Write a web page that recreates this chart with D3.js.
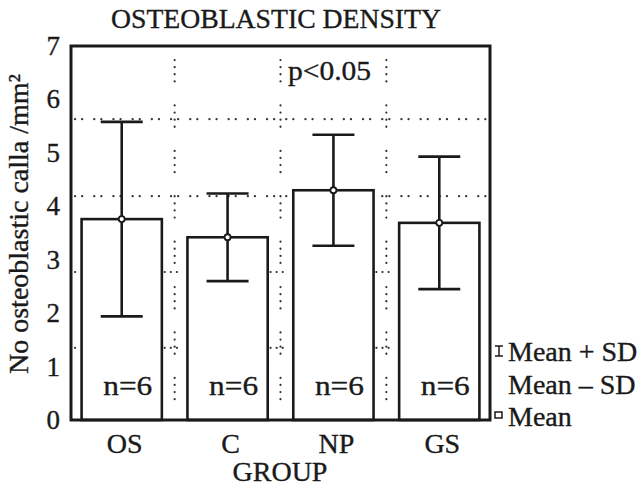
<!DOCTYPE html>
<html><head><meta charset="utf-8">
<script src="https://cdn.jsdelivr.net/npm/d3@7"></script>
<style>
html,body{margin:0;padding:0;background:#fff;}
svg text{font-family:"Liberation Serif","Times New Roman",serif;fill:#1a1a1a;stroke:#1a1a1a;stroke-width:0.35px;}
</style></head>
<body>
<svg id="chart" width="643" height="488"></svg>
<script>
const categories = ["OS", "C", "NP", "GS"];
const means = [3.76, 3.42, 4.30, 3.69];
const sds = [1.82, 0.82, 1.04, 1.24];
const nLabels = ["n=6", "n=6", "n=6", "n=6"];
const yTicks = [0, 1, 2, 3, 4, 5, 6, 7];
const refLines = [5.63, 4.19];
const shortRefLines = [2.77, 1.35];
const legendItems = ["Mean + SD", "Mean \u2013 SD", "Mean"];

(function () {
const svg = d3.select("#chart");
const ink = "#1a1a1a";
const pL = 71, pR = 490, pT = 46, pB = 420;

const y = d3.scaleLinear().domain([0, 7]).range([pB, pT]);
const x = d3.scaleBand().domain(categories).range([pL, pR])
  .paddingInner(0.2417).paddingOuter(0.1);

// dotted reference lines
const dotG = svg.append("g").attr("stroke", "#333").attr("stroke-width", 2.2)
  .attr("stroke-linecap", "round");
dotG.selectAll("line.h").data(refLines).join("line")
  .attr("x1", pL + 4).attr("x2", pR - 4)
  .attr("y1", d => y(d)).attr("y2", d => y(d))
  .attr("stroke-dasharray", "0.1,7,0.1,12");
const seps = categories.slice(1).map((c, i) => (x(categories[i]) + x.bandwidth() + x(c)) / 2);
dotG.selectAll("line.v").data(seps).join("line")
  .attr("x1", d => d).attr("x2", d => d)
  .attr("y1", pT + 14).attr("y2", pB - 20)
  .attr("stroke-dasharray", "0.1,7,0.1,7,0.1,7,0.1,24");
shortRefLines.forEach(v => {
  [pL + 4].concat(seps).forEach(sx => {
    dotG.append("line").attr("x1", sx - (sx === pL + 4 ? 0 : 10)).attr("x2", sx + 6)
      .attr("y1", y(v)).attr("y2", y(v)).attr("stroke-dasharray", "0.1,6");
  });
});

// bars
svg.append("g").selectAll("rect").data(categories).join("rect")
  .attr("x", d => x(d)).attr("width", x.bandwidth())
  .attr("y", (d, i) => y(means[i])).attr("height", (d, i) => y(0) - y(means[i]))
  .attr("fill", "#fff").attr("stroke", ink).attr("stroke-width", 2.6);

// error bars
const eg = svg.append("g").attr("stroke", ink).attr("stroke-width", 2.6);
categories.forEach((c, i) => {
  const cx = x(c) + x.bandwidth() / 2;
  const hi = y(means[i] + sds[i]), lo = y(means[i] - sds[i]);
  eg.append("line").attr("x1", cx).attr("x2", cx).attr("y1", hi).attr("y2", lo);
  eg.append("line").attr("x1", cx - 21).attr("x2", cx + 21).attr("y1", hi).attr("y2", hi);
  eg.append("line").attr("x1", cx - 21).attr("x2", cx + 21).attr("y1", lo).attr("y2", lo);
});
svg.append("g").selectAll("circle").data(categories).join("circle")
  .attr("cx", d => x(d) + x.bandwidth() / 2).attr("cy", (d, i) => y(means[i]))
  .attr("r", 3).attr("fill", "#fff").attr("stroke", ink).attr("stroke-width", 1.8);

// frame
svg.append("rect").attr("x", pL).attr("y", pT).attr("width", pR - pL)
  .attr("height", pB - pT).attr("fill", "none").attr("stroke", ink).attr("stroke-width", 3);

// n labels
svg.append("g").selectAll("text").data(categories).join("text")
  .attr("x", d => x(d) + x.bandwidth() / 2 + 6).attr("y", 395)
  .attr("text-anchor", "middle").attr("font-size", 28)
  .attr("textLength", 49).attr("lengthAdjust", "spacingAndGlyphs")
  .text((d, i) => nLabels[i]);

// y tick labels
svg.append("g").selectAll("text").data(yTicks).join("text")
  .attr("x", 60).attr("y", d => y(d) + 9).attr("text-anchor", "end")
  .attr("font-size", 27).text(d => d);

// x labels
svg.append("g").selectAll("text").data(categories).join("text")
  .attr("x", d => x(d) + x.bandwidth() / 2 + 3).attr("y", 453)
  .attr("text-anchor", "middle").attr("font-size", 28).text(d => d);

svg.append("text").attr("x", 276).attr("y", 28).attr("text-anchor", "middle")
  .attr("font-size", 28).attr("textLength", 330).attr("lengthAdjust", "spacingAndGlyphs")
  .text("OSTEOBLASTIC DENSITY");
svg.append("text").attr("x", 280).attr("y", 481).attr("text-anchor", "middle")
  .attr("font-size", 28).text("GROUP");
svg.append("text").attr("transform", "translate(28,224) rotate(-90)")
  .attr("text-anchor", "middle").attr("font-size", 28)
  .text("No osteoblastic calla /mm\u00B2");
svg.append("text").attr("x", 288).attr("y", 80).attr("font-size", 27)
  .attr("textLength", 83).attr("lengthAdjust", "spacingAndGlyphs").text("p<0.05");

// legend
const lg = svg.append("g");
const lys = [352, 385, 417];
lg.selectAll("text").data(legendItems).join("text")
  .attr("x", 508).attr("y", (d, i) => lys[i] + 9).attr("font-size", 28).text(d => d);
const ib = lg.append("g").attr("stroke", ink).attr("stroke-width", 1.5);
ib.append("line").attr("x1", 499).attr("x2", 499).attr("y1", 346).attr("y2", 356);
ib.append("line").attr("x1", 495).attr("x2", 503).attr("y1", 346).attr("y2", 346);
ib.append("line").attr("x1", 495).attr("x2", 503).attr("y1", 356).attr("y2", 356);
lg.append("rect").attr("x", 495).attr("y", 412).attr("width", 7).attr("height", 6)
  .attr("fill", "#fff").attr("stroke", ink).attr("stroke-width", 1.5);
})();
</script>
</body></html>
